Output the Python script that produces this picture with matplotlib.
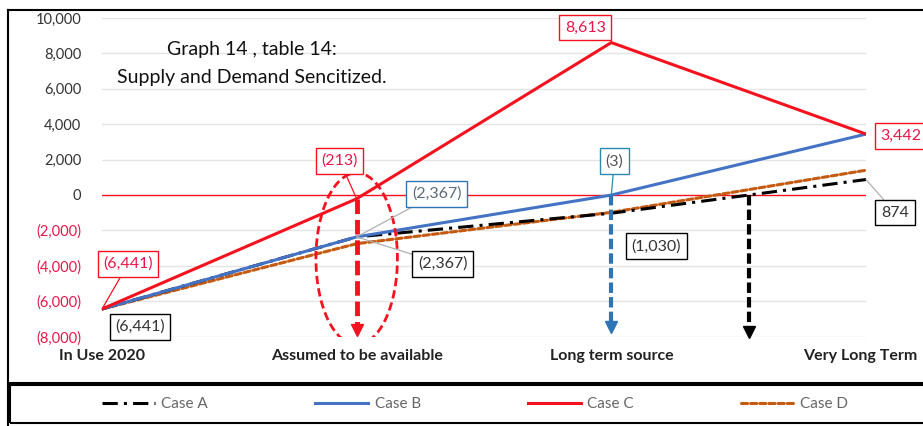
import matplotlib.pyplot as plt
import matplotlib.transforms as mtransforms
from matplotlib.lines import Line2D
from matplotlib.patches import Ellipse, Rectangle

plt.rcParams['font.family'] = ['Lato', 'DejaVu Sans']

CATEGORIES = ["In Use 2020", "Assumed to be available", "Long term source", "Very Long Term"]
CASE_A = [-6441, -2367, -1030, 874]
CASE_B = [-6441, -2367, -3, 3442]
CASE_C = [-6441, -213, 8613, 3442]
CASE_D = [-6441, -2750, -980, 1400]
Y_TICKS = list(range(-8000, 10001, 2000))

RED = "#f5121f"
LABEL_RED = "#e8174a"
BLUE = "#4472c4"
ARROW_BLUE = "#2e75b6"
ORANGE = "#c55a11"


def tick_text(v):
    return f"({abs(v):,})" if v < 0 else f"{v:,}"


def value_label(v):
    return f"({abs(v):,})" if v < 0 else f"{v:,}"


fig = plt.figure(figsize=(9.23, 4.26), dpi=100)
W, H = 923, 426
ax = fig.add_axes([102 / W, 1 - 336.6 / H, (866 - 102) / W, (336.6 - 18) / H])

x = range(len(CATEGORIES))

# grid and the red zero line
for t in Y_TICKS:
    if t != 0:
        ax.axhline(t, color="#e4e4e4", lw=1, zorder=0)
ax.axhline(0, color=RED, lw=1, zorder=1)

ax.plot(x, CASE_D, color=ORANGE, lw=2.2, ls=(0, (2, 1)), dash_capstyle="round", zorder=3, label="Case D")
ax.plot(x, CASE_A, color="black", lw=2.2, ls=(0, (5, 2, 1, 2)), zorder=3, label="Case A")
ax.plot(x, CASE_B, color=BLUE, lw=2.2, zorder=4, label="Case B")
ax.plot(x, CASE_C, color=RED, lw=2.2, zorder=5, label="Case C")

ax.set_xlim(0, len(CATEGORIES) - 1)
ax.set_ylim(-8000, 10000)
ax.set_yticks(Y_TICKS)
ax.set_yticklabels([tick_text(t) for t in Y_TICKS], fontsize=10.5)
for lbl, t in zip(ax.get_yticklabels(), Y_TICKS):
    lbl.set_color(LABEL_RED if t < 0 else "#333333")
ax.set_xticks(list(x))
ax.set_xticklabels(CATEGORIES, fontsize=11.5, fontweight="bold", color="#222222")
ax.tick_params(axis="both", length=0)
ax.tick_params(axis="y", pad=15)
ax.tick_params(axis="x", pad=9)
for s in ax.spines.values():
    s.set_visible(False)
# keep the last category name inside the figure edge
last = ax.get_xticklabels()[-1]
last.set_transform(last.get_transform() + mtransforms.ScaledTranslation(-6 / 100, 0, fig.dpi_scale_trans))

# dashed drop arrows
zero_cross = 2 + CASE_A[2] / (CASE_A[2] - CASE_A[3])
drops = [
    (1, CASE_C[1], -7900, RED, 3.5, (0, (3, 1.2))),
    (2, CASE_B[2], -7700, ARROW_BLUE, 3, (0, (2.5, 1))),
    (zero_cross, 0, -8000, "black", 3, (0, (2.5, 1))),
]
for xd, y0, y1, c, lw, ls in drops:
    ax.plot([xd, xd], [y0, y1 + 400], color=c, lw=lw, ls=ls, zorder=6, clip_on=False)
    ax.plot([xd], [y1 + 250], marker="v", ms=9, color=c, zorder=6, clip_on=False)

ax.add_patch(Ellipse((1, -3600), width=0.32, height=9700, fill=False,
                     ec=RED, ls=(0, (3, 1.5)), lw=2, zorder=6))

# value labels: (x index, series, offset px, text colour, box colour, leader colour)
labels = [
    (0, CASE_C, (26, 45), LABEL_RED, RED, RED),
    (0, CASE_A, (38, -18), "#333333", "black", None),
    (1, CASE_C, (-17, 38), LABEL_RED, RED, RED),
    (1, CASE_B, (80, 43), "#5a6b7b", ARROW_BLUE, "#b0b0b0"),
    (1, CASE_A, (86, -27), "#333333", "black", "#b0b0b0"),
    (2, CASE_B, (3, 34), "#555555", "#2a8ab0", "#2a8ab0"),
    (2, CASE_A, (45, -33), "#333333", "black", None),
    (2, CASE_C, (-26, 15), LABEL_RED, RED, None),
    (3, CASE_C, (35, -2), LABEL_RED, RED, None),
    (3, CASE_A, (29, -33), "#333333", "black", "#b0b0b0"),
]
for i, series, off, tc, bc, lc in labels:
    props = None
    if lc:
        props = dict(arrowstyle="-", color=lc, lw=0.9, shrinkA=0, shrinkB=0)
    ax.annotate(value_label(series[i]), xy=(i, series[i]), xytext=off,
                textcoords="offset pixels", ha="center", va="center",
                fontsize=11.5, color=tc, zorder=8, annotation_clip=False,
                bbox=dict(boxstyle="square,pad=0.35", fc="white", ec=bc, lw=1),
                arrowprops=props)

fig.text(252 / W, 1 - 50 / H, "Graph 14 , table 14:", fontsize=14, ha="center", va="center", color="#111111")
fig.text(252 / W, 1 - 77 / H, "Supply and Demand Sencitized.", fontsize=14, ha="center", va="center", color="#111111")

# chart border and legend box
lk = dict(color="black", lw=1.5)
fig.add_artist(Line2D([8 / W, 8 / W], [0, 1 - 10 / H], **lk))
fig.add_artist(Line2D([8 / W, 1], [1 - 10 / H, 1 - 10 / H], **lk))
fig.add_artist(Line2D([8 / W, 1], [1 - 383 / H, 1 - 383 / H], **lk))
fig.add_artist(Rectangle((10 / W, 1 - 423 / H), 1, 38 / H, fill=False, ec="black", lw=1.5))

handles, names = ax.get_legend_handles_labels()
order = [names.index(n) for n in ["Case A", "Case B", "Case C", "Case D"]]
leg = fig.legend([handles[k] for k in order], [names[k] for k in order], ncol=4,
                 loc="center", bbox_to_anchor=(475 / W, 1 - 404 / H), frameon=False,
                 fontsize=11, handlelength=3.5, handletextpad=0.4, columnspacing=7.0)
for t in leg.get_texts():
    t.set_color("#666666")

fig.savefig("out.png", dpi=100)
